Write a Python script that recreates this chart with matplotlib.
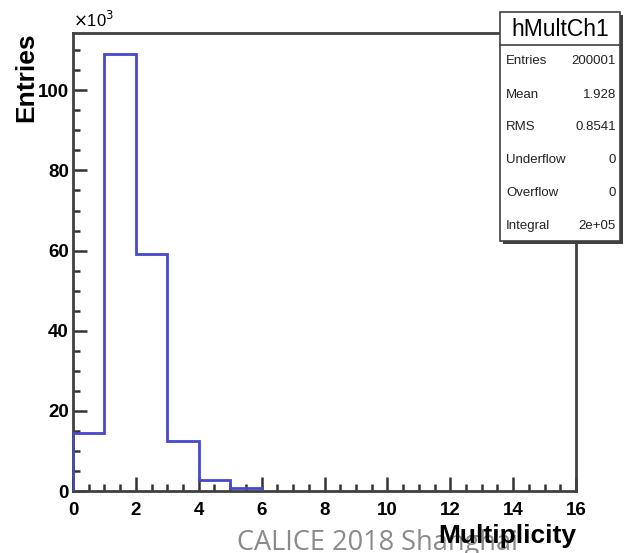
import matplotlib.pyplot as plt
from matplotlib.patches import Rectangle
from matplotlib.ticker import MultipleLocator

plt.rcParams['font.family'] = ['Liberation Sans', 'DejaVu Sans']

# histogram contents (thousands of entries per bin)
bin_edges = [0, 1, 2, 3, 4, 5, 6]
counts_k = [14.5, 109.0, 59.2, 12.4, 2.7, 0.7]

stat_names = ['Entries', 'Mean', 'RMS', 'Underflow', 'Overflow', 'Integral']
stat_values = ['200001', '1.928', '0.8541', '0', '0', '2e+05']
hist_name = 'hMultCh1'

W, H = 626, 553
fig = plt.figure(figsize=(W / 100, H / 100), dpi=100)
fig.patch.set_facecolor('white')

ax = fig.add_axes([73 / W, (H - 491) / H, (576 - 73) / W, (491 - 33) / H])

ax.stairs(counts_k, bin_edges, color='#4848cc', linewidth=2.0, zorder=3)

ax.set_xlim(0, 16)
ax.set_ylim(0, 114.3)
ax.xaxis.set_major_locator(MultipleLocator(2))
ax.xaxis.set_minor_locator(MultipleLocator(0.5))
ax.yaxis.set_major_locator(MultipleLocator(20))
ax.yaxis.set_minor_locator(MultipleLocator(5))
ax.tick_params(which='both', direction='in', color='#333333', width=1.8,
               top=False, right=False)
ax.tick_params(which='major', length=10, labelsize=13.5)
ax.tick_params(which='minor', length=5)
ax.tick_params(axis='x', pad=8)
ax.tick_params(axis='y', pad=3)
for lab in ax.get_xticklabels() + ax.get_yticklabels():
    lab.set_fontweight('bold')
for sp in ax.spines.values():
    sp.set_color('#404040')
    sp.set_linewidth(2.0)

fig.text(576 / W, (H - 536) / H, 'Multiplicity', ha='right', va='center',
         fontsize=19, fontweight='bold', zorder=5)
fig.text(26 / W, (H - 77) / H, 'Entries', ha='center', va='center',
         rotation=90, fontsize=19, fontweight='bold')
fig.text(73 / W, (H - 20) / H, r'$\times$10$^{3}$', ha='left', va='center',
         fontsize=12)

# stats box with drop shadow
bx0, bx1, by0, by1 = 500, 620, 12, 241
shadow = Rectangle(((bx0 + 3) / W, (H - by1 - 3) / H),
                   (bx1 - bx0) / W, (by1 - by0) / H, transform=fig.transFigure,
                   facecolor='#404040', edgecolor='none', zorder=6)
fig.add_artist(shadow)
box = Rectangle((bx0 / W, (H - by1) / H), (bx1 - bx0) / W, (by1 - by0) / H,
                transform=fig.transFigure, facecolor='white',
                edgecolor='#404040', linewidth=1.2, zorder=7)
fig.add_artist(box)
fig.add_artist(plt.Line2D([bx0 / W, bx1 / W], [(H - 45) / H, (H - 45) / H],
                          transform=fig.transFigure, color='#404040',
                          linewidth=1.2, zorder=8))
fig.text((bx0 + bx1) / 2 / W, (H - 29) / H, hist_name, ha='center',
         va='center', fontsize=16.5, zorder=9)
row_y = [61, 95, 127, 160, 193, 226]
for name, val, y in zip(stat_names, stat_values, row_y):
    fig.text((bx0 + 6) / W, (H - y) / H, name, ha='left', va='center',
             fontsize=9.5, color='#222222', zorder=9)
    fig.text((bx1 - 4) / W, (H - y) / H, val, ha='right', va='center',
             fontsize=9.5, color='#222222', zorder=9)

fig.text(237 / W, (H - 550) / H, 'CALICE 2018 Shanghai', ha='left',
         va='baseline', fontsize=19.5, color='#8a8a8a', family='Open Sans',
         zorder=4)

fig.savefig('out.png', dpi=100)
